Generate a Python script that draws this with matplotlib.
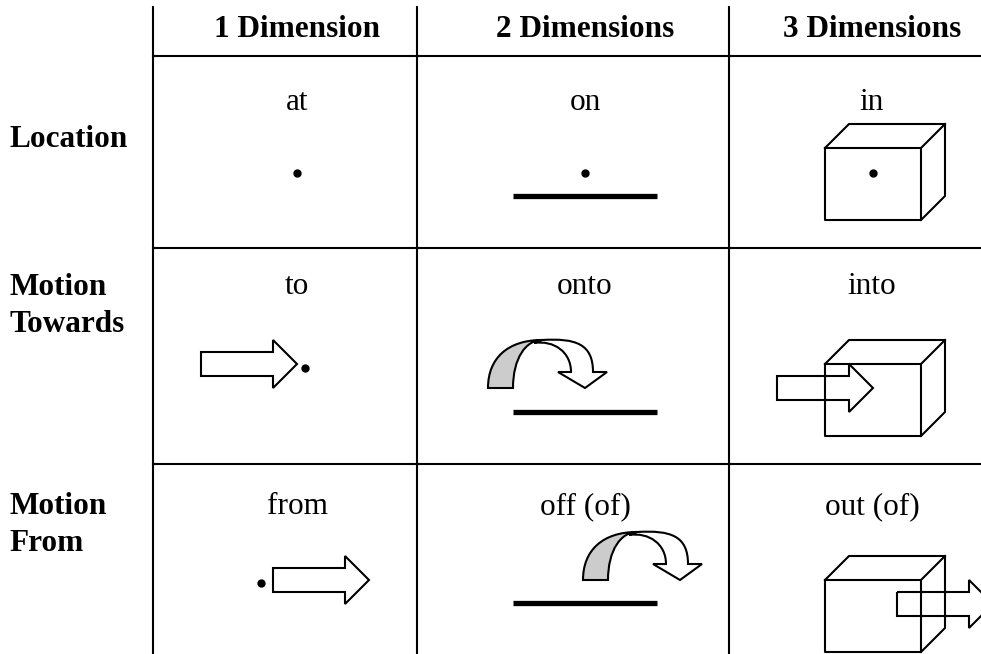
import numpy as np
import matplotlib
matplotlib.use("Agg")
import matplotlib.pyplot as plt
from matplotlib.path import Path
from matplotlib.patches import PathPatch, Polygon

# table content
col_headers = ["1 Dimension", "2 Dimensions", "3 Dimensions"]
row_labels = ["Location", "Motion\nTowards", "Motion\nFrom"]
cell_words = [["at", "on", "in"],
              ["to", "onto", "into"],
              ["from", "off (of)", "out (of)"]]

# layout in pixels (y grows downwards)
col_x = [297, 585, 872]
word_base = [110, 294, 514]
label_base = [147, 295, 514]
v_lines = [153, 417, 729]
h_lines = [56, 248, 464]

FS = 22.5
FONT = "Liberation Serif"
LW = 1.5


def block_arrow(ax, x0, yc):
    # straight outline arrow: shaft 72x24, head 24 long, 48 tall
    pts = [(x0, yc - 12), (x0 + 72, yc - 12), (x0 + 72, yc - 24), (x0 + 96, yc),
           (x0 + 72, yc + 24), (x0 + 72, yc + 12), (x0, yc + 12)]
    ax.add_patch(Polygon(pts, closed=True, fill=False, ec="black", lw=LW))


def cube(ax, x0, y0, w=96, h=72, d=24):
    k = dict(color="black", lw=LW, solid_capstyle="projecting")
    ax.plot([x0, x0 + w, x0 + w, x0, x0], [y0, y0, y0 + h, y0 + h, y0], **k)
    ax.plot([x0, x0 + d, x0 + w + d, x0 + w + d, x0 + w],
            [y0, y0 - d, y0 - d, y0 + h - d, y0 + h], **k)
    ax.plot([x0 + w, x0 + w + d], [y0, y0 - d], **k)


def curved_arrow(ax, ox, oy):
    # white front half of the ribbon with arrow head
    def p(x, y):
        return (ox + x, oy + y)
    verts = [p(46, -45),
             p(66, -48), p(83, -36), p(83, -16),
             p(70, -16), p(97, 0), p(119, -16), p(105, -16),
             p(105, -44), p(88, -50), p(54, -48),
             p(46, -45)]
    codes = [Path.MOVETO,
             Path.CURVE4, Path.CURVE4, Path.CURVE4,
             Path.LINETO, Path.LINETO, Path.LINETO, Path.LINETO,
             Path.CURVE4, Path.CURVE4, Path.CURVE4,
             Path.CLOSEPOLY]
    ax.add_patch(PathPatch(Path(verts, codes), fc="white", ec="black", lw=LW))
    # grey back half
    verts = [p(0, 0),
             p(0, -30), p(20, -48), p(54, -48),
             p(38, -48), p(25, -30), p(25, 0),
             p(0, 0)]
    codes = [Path.MOVETO,
             Path.CURVE4, Path.CURVE4, Path.CURVE4,
             Path.CURVE4, Path.CURVE4, Path.CURVE4,
             Path.CLOSEPOLY]
    ax.add_patch(PathPatch(Path(verts, codes), fc="#cccccc", ec="black", lw=LW))


fig = plt.figure(figsize=(9.81, 6.54), dpi=100)
ax = fig.add_axes([0, 0, 1, 1])
ax.set_xlim(0, 981)
ax.set_ylim(654, 0)
ax.axis("off")

# grid
for x in v_lines:
    ax.plot([x, x], [7, 654], color="black", lw=LW)
for y in h_lines:
    ax.plot([153, 981], [y, y], color="black", lw=LW)

# headers
for x, t in zip(col_x, col_headers):
    ax.text(x, 37, t, ha="center", va="baseline", fontsize=FS,
            fontweight="bold", family=FONT)

# row labels
for yb, t in zip(label_base, row_labels):
    for i, line in enumerate(t.split("\n")):
        ax.text(9, yb + i * 37, line, ha="left", va="baseline", fontsize=FS,
                fontweight="bold", family=FONT)

# cell words
for r, row in enumerate(cell_words):
    for c, w in enumerate(row):
        ax.text(col_x[c], word_base[r], w, ha="center", va="baseline",
                fontsize=FS, family=FONT)

# row 1: location
ax.plot([297, 585, 873], [173, 173, 173], "o", color="black", ms=5)
ax.plot([513, 657], [196, 196], color="black", lw=3.8, solid_capstyle="butt")
cube(ax, 825, 148)

# row 2: motion towards
block_arrow(ax, 201, 364)
ax.plot([305], [368], "o", color="black", ms=5)
curved_arrow(ax, 488, 388)
ax.plot([513, 657], [412, 412], color="black", lw=3.8, solid_capstyle="butt")
cube(ax, 825, 364)
block_arrow(ax, 777, 388)

# row 3: motion from
ax.plot([261], [583], "o", color="black", ms=5)
block_arrow(ax, 273, 580)
curved_arrow(ax, 583, 580)
ax.plot([513, 657], [603, 603], color="black", lw=3.8, solid_capstyle="butt")
cube(ax, 825, 580)
block_arrow(ax, 897, 604)

fig.savefig("out.png", dpi=100)
